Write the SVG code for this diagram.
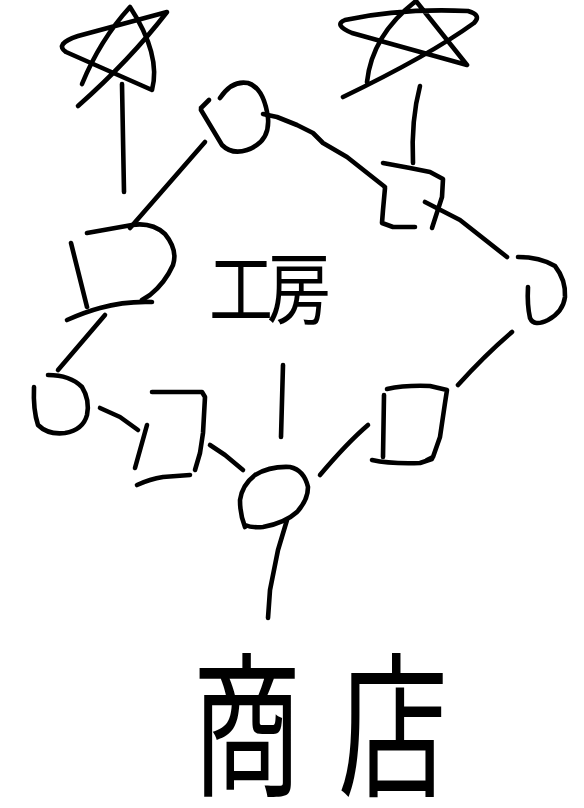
<svg xmlns="http://www.w3.org/2000/svg" width="584" height="808" viewBox="0 0 584 808">
<style>
  .s { fill: none; stroke: #000; stroke-width: 4.6; stroke-linecap: round; stroke-linejoin: round; }
  .t { font-family: "Noto Sans CJK JP", "Noto Sans CJK SC", sans-serif; fill: #000; }
</style>
<rect width="584" height="808" fill="#fff"/>
<g id="connectors" class="s">
  <path d="M122,84 Q123,140 124,192"/>
  <path d="M420,86 Q411,120 413,163"/>
  <path d="M205,142 L130,228"/>
  <path d="M263,114 L277,117 L297,125 L313,133 L323,143 L347,157 L385,187"/>
  <path d="M425,202 L460,220 L507,257"/>
  <path d="M512,332 Q485,355 458,385"/>
  <path d="M105,315 L58,370"/>
  <path d="M100,408 L120,417 L138,430"/>
  <path d="M210,445 L225,455 L243,470"/>
  <path d="M368,425 Q347,443 320,475"/>
  <path d="M283,365 L281,437"/>
  <path d="M287,520 L278,550 L270,590 L268,618"/>
</g>
<g id="star-left" class="s">
  <path d="M82,84 Q100,40 130,7 C145,30 160,60 152,90 L66,52 Q54,44 78,36 L167,12 Q130,60 78,106"/>
</g>
<g id="star-right" class="s">
  <path d="M367,82 Q372,35 416,1 L467,65 L352,33 Q333,25 345,20 Q400,8 468,11 Q482,15 474,23 Q430,55 343,97"/>
</g>
<g id="node-circle-top" class="s">
  <path d="M220,98 Q232,80 248,83 Q264,88 268,118 Q270,142 247,150 Q232,155 222,145 L201,110"/>
  <path d="M201,108 L209,100"/>
</g>
<g id="node-square-right" class="s">
  <path d="M383,163 L410,168 L430,172 L443,179 L442,197 L432,228"/>
  <path d="M385,188 L383,210 L382,223 L393,227 L415,227"/>
</g>
<g id="node-right" class="s">
  <path d="M518,257 Q540,257 555,266 Q566,280 565,297 Q563,312 548,320 Q534,327 530,318 Q527,305 528,287"/>
</g>
<g id="node-d-left" class="s">
  <path d="M71,243 L87,307"/>
  <path d="M87,233 L132,225 Q152,222 165,234 Q178,250 173,265 Q165,283 150,295 L142,300"/>
  <path d="M67,320 Q85,312 100,308 Q125,301 152,302"/>
</g>
<g id="node-circle-left" class="s">
  <path d="M48,375 Q70,375 82,387 Q90,400 87,415 Q83,430 65,433 Q48,435 38,425 Q33,410 34,387"/>
</g>
<g id="node-square-left" class="s">
  <path d="M152,392 L202,392 L205,397 L203,433 L200,453 L195,470"/>
  <path d="M147,425 L135,468"/>
  <path d="M137,485 Q150,479 163,477 L190,475"/>
</g>
<g id="node-circle-bottom" class="s">
  <path d="M245,527 Q240,515 240,500 Q242,485 255,475 Q270,466 290,467 Q304,470 308,487 Q308,500 297,512 Q285,523 263,527 Q252,528 245,525"/>
</g>
<g id="node-d-bottom-right" class="s">
  <path d="M387,389 Q405,385 430,386 L447,390 L445,403 L440,437 L433,457 L427,460"/>
  <path d="M384,395 L383,457"/>
  <path d="M372,460 Q390,464 420,463 L432,459"/>
</g>
<g id="label-workshop">
  <text class="t" font-size="64" letter-spacing="-6" transform="translate(209,318) scale(1,1.22)">工房</text>
</g>
<g id="label-shop">
  <text class="t" font-size="110" letter-spacing="36" transform="translate(192,784) scale(1,1.42)">商店</text>
</g>
</svg>
